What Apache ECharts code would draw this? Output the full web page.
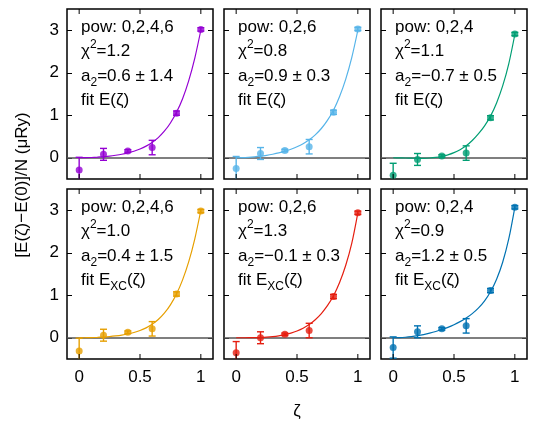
<!DOCTYPE html>
<html>
<head>
<meta charset="utf-8">
<script src="https://cdn.jsdelivr.net/npm/echarts@6/dist/echarts.min.js"></script>
<style>html,body{margin:0;padding:0;background:#fff;}#chart{width:538px;height:423px;}</style>
</head>
<body>
<div id="chart"></div>
<script>
// ---- data ----
const zeta = [0, 0.2, 0.4, 0.6, 0.8, 1.0];
const fitZeta = [0, 0.05, 0.1, 0.15, 0.2, 0.25, 0.3, 0.35, 0.4, 0.45, 0.5,
                 0.55, 0.6, 0.65, 0.7, 0.75, 0.8, 0.85, 0.9, 0.95, 1.0];
const xTicks = [0, 0.5, 1];
const yTicks = [0, 1, 2, 3];
const xMin = -0.1, xMax = 1.1, yMin = -0.5, yMax = 3.5;

const p1Values = [-0.29, 0.08, 0.16, 0.24, 1.05, 3.02];
const p1Errors = [0.30, 0.14, 0.03, 0.17, 0.05, 0.04];
const p1Fit = [0, 0.0015, 0.006, 0.014, 0.025, 0.039, 0.059, 0.083, 0.114, 0.154, 0.205,
               0.273, 0.36, 0.474, 0.624, 0.818, 1.07, 1.39, 1.81, 2.34, 3.0];

const p2Values = [-0.25, 0.10, 0.17, 0.26, 1.07, 3.03];
const p2Errors = [0.28, 0.14, 0.03, 0.17, 0.05, 0.04];
const p2Fit = [0, 0.0023, 0.009, 0.020, 0.036, 0.057, 0.083, 0.114, 0.153, 0.200, 0.258,
               0.330, 0.422, 0.539, 0.688, 0.880, 1.12, 1.44, 1.845, 2.356, 3.0];

const p3Values = [-0.41, -0.04, 0.04, 0.11, 0.94, 2.91];
const p3Errors = [0.28, 0.14, 0.03, 0.17, 0.05, 0.04];
const p3Fit = [0, -0.002, -0.006, -0.010, -0.014, -0.013, -0.006, 0.008, 0.03, 0.068, 0.12,
               0.19, 0.28, 0.405, 0.56, 0.745, 0.98, 1.29, 1.69, 2.21, 2.9];

const p4Values = [-0.31, 0.06, 0.13, 0.21, 1.03, 2.98];
const p4Errors = [0.30, 0.14, 0.03, 0.17, 0.05, 0.04];
const p4Fit = [0, 0.001, 0.004, 0.009, 0.017, 0.028, 0.043, 0.062, 0.088, 0.123, 0.170,
               0.233, 0.318, 0.430, 0.579, 0.775, 1.03, 1.361, 1.784, 2.322, 3.0];

const p5Values = [-0.35, 0.00, 0.08, 0.17, 0.97, 2.94];
const p5Errors = [0.26, 0.14, 0.03, 0.17, 0.05, 0.04];
const p5Fit = [0, 0, 0.001, 0.003, 0.007, 0.014, 0.026, 0.045, 0.072, 0.11, 0.16,
               0.225, 0.31, 0.425, 0.57, 0.755, 0.99, 1.3, 1.7, 2.22, 2.94];

const p6Values = [-0.23, 0.14, 0.21, 0.28, 1.11, 3.07];
const p6Errors = [0.25, 0.14, 0.03, 0.17, 0.05, 0.04];
const p6Fit = [0, 0.003, 0.012, 0.027, 0.048, 0.075, 0.108, 0.147, 0.193, 0.245, 0.307,
               0.379, 0.463, 0.567, 0.696, 0.862, 1.082, 1.377, 1.777, 2.324, 3.07];

const panelPow = ['0,2,4,6', '0,2,6', '0,2,4', '0,2,4,6', '0,2,6', '0,2,4'];
const panelChi2 = ['1.2', '0.8', '1.1', '1.0', '1.3', '0.9'];
const panelA2 = ['0.6 ± 1.4', '0.9 ± 0.3', '−0.7 ± 0.5', '0.4 ± 1.5', '−0.1 ± 0.3', '1.2 ± 0.5'];
const panelFitSub = ['', '', '', 'XC', 'XC', 'XC'];
const yTitle = '[E(ζ)−E(0)]/N (μRy)';
const xTitle = 'ζ';

// ---- build ----
const panelValues = [p1Values, p2Values, p3Values, p4Values, p5Values, p6Values];
const panelErrors = [p1Errors, p2Errors, p3Errors, p4Errors, p5Errors, p6Errors];
const panelFit = [p1Fit, p2Fit, p3Fit, p4Fit, p5Fit, p6Fit];
const colors = ['#9400d3', '#56b4e9', '#009e73', '#e69f00', '#e51e10', '#0072b2'];
const FF = '"Liberation Sans", Arial, sans-serif';
const FS = 17;

const gLeft = [67, 224, 381], gTop = [9, 189], gW = 146, gH = 170;
const grids = [], xAxes = [], yAxes = [], series = [], graphics = [];

for (let i = 0; i < 6; i++) {
  const c = i % 3, r = Math.floor(i / 3);
  const left = gLeft[c], top = gTop[r];
  grids.push({left: left, top: top, width: gW, height: gH, show: true,
    borderColor: '#000', borderWidth: 1.5, backgroundColor: 'transparent'});
  const tickStyle = {show: true, inside: true, length: 5, lineStyle: {color: '#000', width: 1}};
  const noLine = {show: false, onZero: false};
  xAxes.push({type: 'value', gridIndex: i, min: xMin, max: xMax, show: false,
    axisLine: noLine, splitLine: {show: false}});
  yAxes.push({type: 'value', gridIndex: i, min: yMin, max: yMax, position: 'left',
    axisLine: noLine, splitLine: {show: false},
    axisTick: Object.assign({customValues: yTicks}, tickStyle),
    axisLabel: {show: c === 0, customValues: yTicks, margin: 8, fontSize: FS, color: '#000', fontFamily: FF,
      formatter: v => String(v)}});
  yAxes.push({type: 'value', gridIndex: i, min: yMin, max: yMax, position: 'right',
    axisLine: noLine, splitLine: {show: false},
    axisTick: Object.assign({customValues: yTicks}, tickStyle),
    axisLabel: {show: false}});

  const col = colors[i];
  const vals = panelValues[i], errs = panelErrors[i], fit = panelFit[i];
  const xi = i, yi = 2 * i;
  // x ticks (top & bottom, inward), placed via the axis scale
  series.push({type: 'custom', xAxisIndex: xi, yAxisIndex: yi, silent: true, clip: false,
    data: xTicks.map(v => [v, 0]), z: 6,
    renderItem: function (params, api) {
      const v = api.value(0);
      const b = api.coord([v, yMin]), t = api.coord([v, yMax]);
      const st = {stroke: '#000', lineWidth: 1};
      return {type: 'group', children: [
        {type: 'line', shape: {x1: b[0], y1: b[1], x2: b[0], y2: b[1] - 5}, style: st},
        {type: 'line', shape: {x1: t[0], y1: t[1], x2: t[0], y2: t[1] + 5}, style: st}
      ]};
    }, animation: false});
  series.push({type: 'line', xAxisIndex: xi, yAxisIndex: yi,
    data: fitZeta.map((z, k) => [z, fit[k]]), showSymbol: false, symbol: 'none',
    smooth: 0.3,
    lineStyle: {color: col, width: 1.2}, z: 3,
    markLine: {silent: true, symbol: 'none', label: {show: false},
      lineStyle: {color: '#555', width: 1.5, type: 'solid'},
      data: [{yAxis: 0}], z: 2},
    animation: false});
  series.push({type: 'custom', xAxisIndex: xi, yAxisIndex: yi,
    data: zeta.map((z, k) => [z, vals[k], errs[k]]), z: 4,
    renderItem: function (params, api) {
      const x = api.value(0), y = api.value(1), e = api.value(2);
      const p1 = api.coord([x, y + e]), p2 = api.coord([x, y - e]);
      const cap = 3.5;
      const st = {stroke: col, lineWidth: 1.4};
      const cs = params.coordSys;
      return {type: 'group',
        clipPath: {type: 'rect', shape: {x: cs.x, y: cs.y, width: cs.width, height: cs.height}},
        children: [
          {type: 'line', shape: {x1: p1[0], y1: p1[1], x2: p2[0], y2: p2[1]}, style: st},
          {type: 'line', shape: {x1: p1[0] - cap, y1: p1[1], x2: p1[0] + cap, y2: p1[1]}, style: st},
          {type: 'line', shape: {x1: p2[0] - cap, y1: p2[1], x2: p2[0] + cap, y2: p2[1]}, style: st}
        ]};
    }, animation: false});
  series.push({type: 'scatter', xAxisIndex: xi, yAxisIndex: yi,
    data: zeta.map((z, k) => [z, vals[k]]), symbol: 'circle', symbolSize: 7,
    itemStyle: {color: col}, z: 5, animation: false});

  const rich = {
    n: {fontSize: FS, lineHeight: 26, fontFamily: FF, color: '#000', verticalAlign: 'middle'},
    sup: {fontSize: 12, lineHeight: 12, fontFamily: FF, color: '#000', verticalAlign: 'top'},
    sub: {fontSize: 12, lineHeight: 12, fontFamily: FF, color: '#000', verticalAlign: 'bottom'}
  };
  const tx = left + 14;
  const lines = [
    '{n|pow: ' + panelPow[i] + '}',
    '{n|χ}{sup|2}{n|=' + panelChi2[i] + '}',
    '{n|a}{sub|2}{n|=' + panelA2[i] + '}',
    panelFitSub[i] ? '{n|fit E}{sub|' + panelFitSub[i] + '}{n|(ζ)}' : '{n|fit E(ζ)}'
  ];
  const ly = [18, 42.5, 67, 91];
  lines.forEach((t, k) => {
    graphics.push({type: 'text', x: tx, y: top + ly[k], silent: true,
      style: {text: t, rich: rich, align: 'left', verticalAlign: 'middle', fontSize: FS, fontFamily: FF, fill: '#000'}});
  });
}

graphics.push({type: 'text', x: 22, y: 185, rotation: Math.PI / 2, silent: true,
  style: {text: yTitle, align: 'center', verticalAlign: 'middle', fontSize: FS, fontFamily: FF, fill: '#000'}});
graphics.push({type: 'text', x: 297, y: 411, silent: true,
  style: {text: xTitle, align: 'center', verticalAlign: 'middle', fontSize: FS, fontFamily: FF, fill: '#000'}});

const chart = echarts.init(document.getElementById('chart'), null, {renderer: 'canvas'});
chart.setOption({
  animation: false,
  backgroundColor: '#fff',
  grid: grids, xAxis: xAxes, yAxis: yAxes, series: series, graphic: graphics
});

// x tick labels of the bottom row, positioned through the library's x scales
const labelGraphics = [];
for (let c = 0; c < 3; c++) {
  const axisIdx = 3 + c;
  xTicks.forEach(v => {
    const px = chart.convertToPixel({xAxisIndex: axisIdx}, v);
    labelGraphics.push({type: 'text', x: px, y: gTop[1] + gH + 10, z: 1000, silent: true,
      style: {text: String(v), fill: '#000', fontSize: FS, fontFamily: FF, align: 'center', verticalAlign: 'top'}});
  });
}
chart.setOption({graphic: graphics.concat(labelGraphics)});
</script>
</body>
</html>
